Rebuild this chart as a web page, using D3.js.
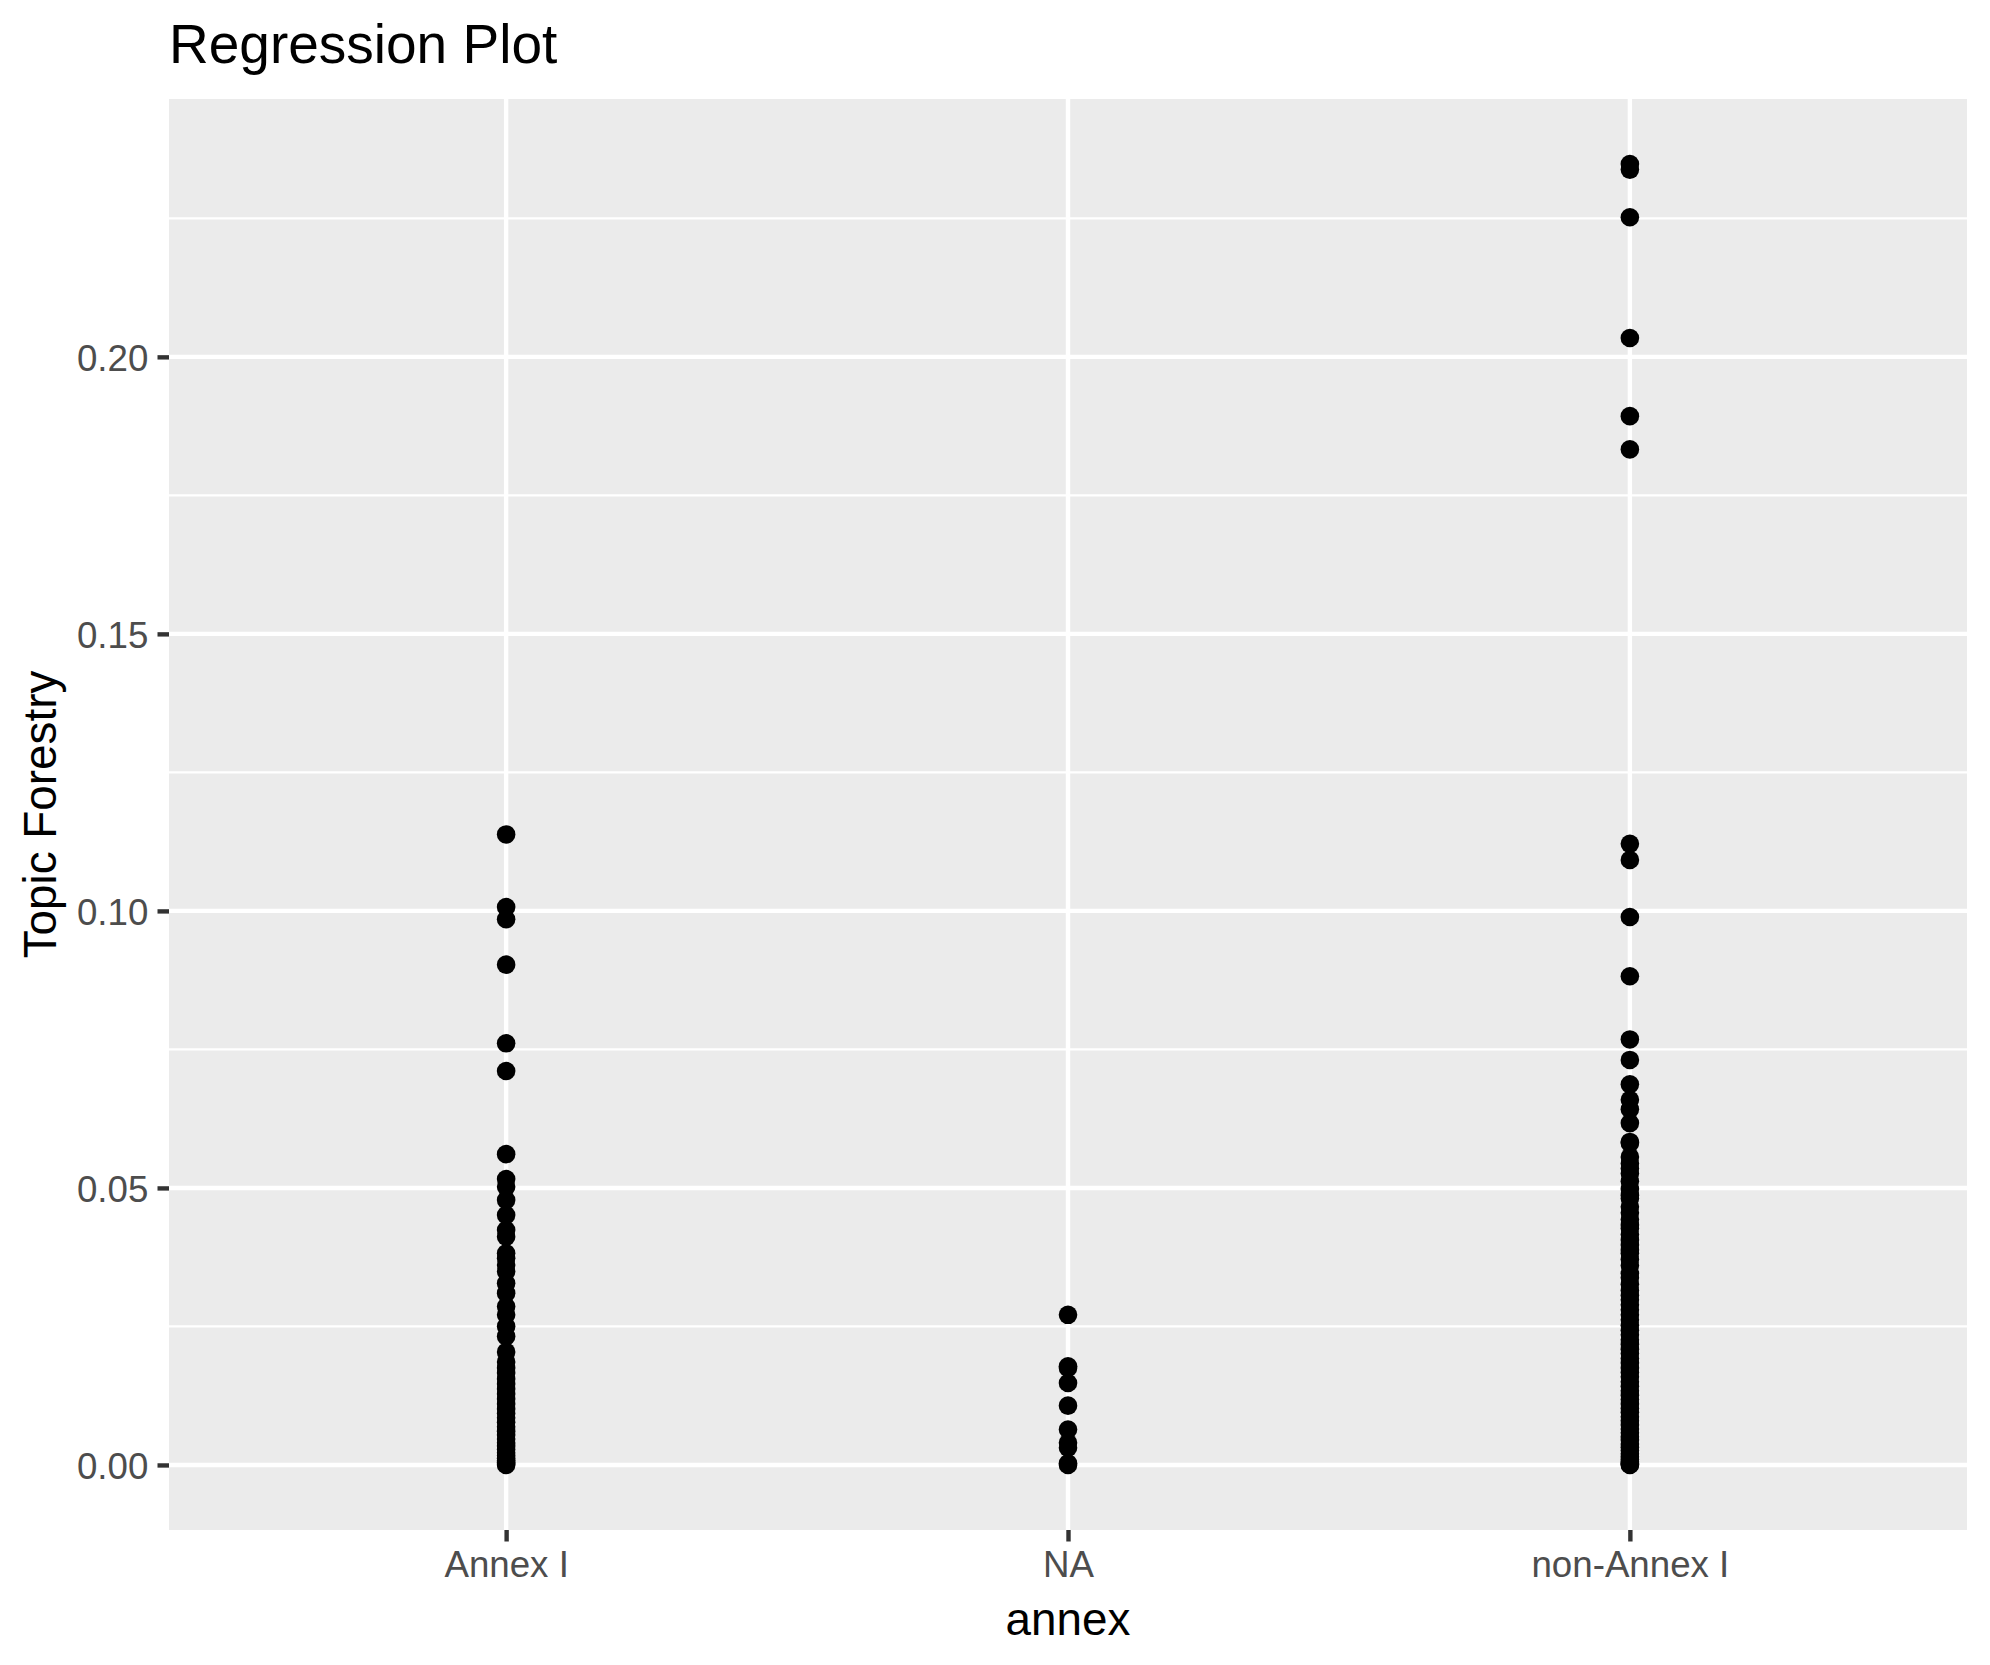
<!DOCTYPE html>
<html>
<head>
<meta charset="utf-8">
<script src="https://cdn.jsdelivr.net/npm/d3@7"></script>
<style>
  html, body { margin: 0; padding: 0; background: #ffffff; }
  svg { display: block; }
  text { font-family: "Liberation Sans", Arial, Helvetica, sans-serif; }
</style>
</head>
<body>
<svg id="chart" width="1990" height="1665"></svg>
<script>
// ---- data ----
const categories = ["Annex I", "NA", "non-Annex I"];

const annexI = [
  0.1138, 0.1007, 0.0985, 0.0903, 0.0761, 0.0711, 0.0561, 0.0516, 0.0502, 0.0478,
  0.0451, 0.0424, 0.0412, 0.0382, 0.0373, 0.0361, 0.0349, 0.0328, 0.0310, 0.0286,
  0.0271, 0.0250, 0.0232, 0.0204, 0.0186, 0.0175, 0.0166, 0.0155, 0.0146, 0.0137,
  0.0128, 0.0119, 0.0110, 0.0101, 0.0093, 0.0085, 0.0077, 0.0069, 0.0061, 0.0054,
  0.0047, 0.0040, 0.0034, 0.0028, 0.0022, 0.0017, 0.0012, 0.0008, 0.0005, 0.0002,
  0.0000
];

const naValues = [0.0271, 0.0178, 0.0175, 0.0148, 0.0107, 0.0064, 0.0040, 0.0031, 0.0003, 0.0000];

const nonAnnexI = [
  0.2348, 0.2338, 0.2252, 0.2034, 0.1893, 0.1833, 0.1121, 0.1092, 0.0989, 0.0882,
  0.0768, 0.0731, 0.0687, 0.0659, 0.0642, 0.0617, 0.0583, 0.0581, 0.0556,
  0.0544, 0.0535, 0.0526, 0.0512, 0.0498, 0.0487, 0.0481, 0.0466, 0.0455, 0.0443,
  0.0433, 0.0427, 0.0416, 0.0406, 0.0397, 0.0388, 0.0382, 0.0371, 0.0360, 0.0346,
  0.0338, 0.0326, 0.0315, 0.0306, 0.0298, 0.0289, 0.0280, 0.0271, 0.0262, 0.0252,
  0.0243, 0.0235, 0.0226, 0.0218, 0.0209, 0.0201, 0.0192, 0.0184, 0.0175, 0.0167,
  0.0159, 0.0150, 0.0142, 0.0134, 0.0126, 0.0118, 0.0110, 0.0102, 0.0095, 0.0087,
  0.0080, 0.0072, 0.0065, 0.0058, 0.0051, 0.0045, 0.0038, 0.0032, 0.0026, 0.0020,
  0.0015, 0.0010, 0.0006, 0.0003, 0.0001, 0.0000
];

const yMajorTicks = [0.00, 0.05, 0.10, 0.15, 0.20];
const yMinorTicks = [0.025, 0.075, 0.125, 0.175, 0.225];

const titleText = "Regression Plot";
const xTitle = "annex";
const yTitle = "Topic Forestry";

// ---- build points table ----
const seriesByCat = [annexI, naValues, nonAnnexI];
const points = [];
seriesByCat.forEach((vals, i) => vals.forEach(v => points.push({ cat: categories[i], value: v })));

// ---- layout ----
const panel = { left: 169, right: 1967, top: 99, bottom: 1530 };
const svg = d3.select("#chart");

const x = d3.scalePoint()
  .domain(categories)
  .range([panel.left, panel.right])
  .padding(0.6);

const [ymin, ymax] = d3.extent(points, d => d.value);
const yPad = (ymax - ymin) * 0.05;
const y = d3.scaleLinear()
  .domain([ymin - yPad, ymax + yPad])
  .range([panel.bottom, panel.top]);

// panel background
svg.append("rect")
  .attr("x", panel.left).attr("y", panel.top)
  .attr("width", panel.right - panel.left)
  .attr("height", panel.bottom - panel.top)
  .attr("fill", "#EBEBEB");

// minor gridlines
svg.append("g").selectAll("line").data(yMinorTicks).join("line")
  .attr("x1", panel.left).attr("x2", panel.right)
  .attr("y1", d => y(d)).attr("y2", d => y(d))
  .attr("stroke", "#ffffff").attr("stroke-width", 2.2);

// major gridlines
svg.append("g").selectAll("line").data(yMajorTicks).join("line")
  .attr("x1", panel.left).attr("x2", panel.right)
  .attr("y1", d => y(d)).attr("y2", d => y(d))
  .attr("stroke", "#ffffff").attr("stroke-width", 4.4);

svg.append("g").selectAll("line").data(categories).join("line")
  .attr("x1", d => x(d)).attr("x2", d => x(d))
  .attr("y1", panel.top).attr("y2", panel.bottom)
  .attr("stroke", "#ffffff").attr("stroke-width", 4.4);

// points
svg.append("g").selectAll("circle").data(points).join("circle")
  .attr("cx", d => x(d.cat))
  .attr("cy", d => y(d.value))
  .attr("r", 9.3)
  .attr("fill", "#000000");

// y axis
const yAxis = d3.axisLeft(y)
  .tickValues(yMajorTicks)
  .tickFormat(d3.format(".2f"))
  .tickSize(11.5)
  .tickPadding(9.2);
const gy = svg.append("g")
  .attr("transform", `translate(${panel.left},0)`)
  .call(yAxis);
gy.select(".domain").remove();
gy.selectAll(".tick line").attr("stroke", "#333333").attr("stroke-width", 4.4);
gy.selectAll(".tick text")
  .attr("fill", "#4D4D4D")
  .attr("font-size", 36.7)
  .attr("dy", "0.36em")
  .attr("font-family", "'Liberation Sans', Arial, Helvetica, sans-serif");

// x axis
const xAxis = d3.axisBottom(x)
  .tickSize(11.5)
  .tickPadding(9.2);
const gx = svg.append("g")
  .attr("transform", `translate(0,${panel.bottom})`)
  .call(xAxis);
gx.select(".domain").remove();
gx.selectAll(".tick line").attr("stroke", "#333333").attr("stroke-width", 4.4);
gx.selectAll(".tick text")
  .attr("fill", "#4D4D4D")
  .attr("font-size", 36.7)
  .attr("y", 47)
  .attr("dy", "0")
  .attr("font-family", "'Liberation Sans', Arial, Helvetica, sans-serif");

// title
svg.append("text")
  .attr("x", panel.left)
  .attr("y", 63)
  .attr("font-size", 55)
  .attr("fill", "#000000")
  .text(titleText);

// x title
svg.append("text")
  .attr("x", (panel.left + panel.right) / 2)
  .attr("y", 1635)
  .attr("text-anchor", "middle")
  .attr("font-size", 45.8)
  .attr("fill", "#000000")
  .text(xTitle);

// y title
svg.append("text")
  .attr("transform", `translate(56,${(panel.top + panel.bottom) / 2}) rotate(-90)`)
  .attr("text-anchor", "middle")
  .attr("font-size", 45.8)
  .attr("fill", "#000000")
  .text(yTitle);
</script>
</body>
</html>
